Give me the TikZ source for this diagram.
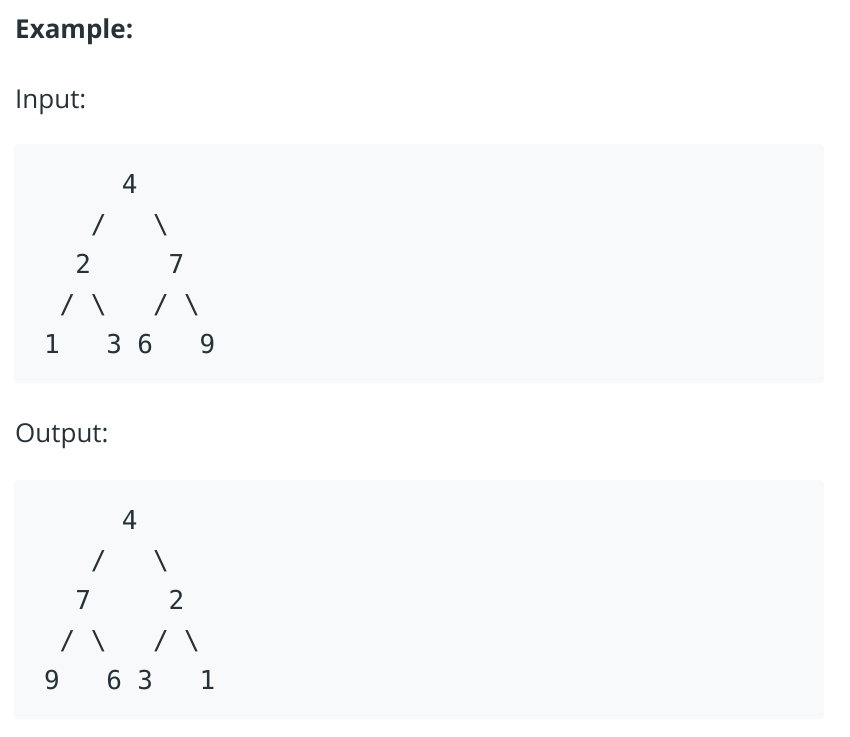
\documentclass[tikz,border=0pt]{standalone}
\usepackage{fontspec}
\setmainfont{Open Sans}
\newfontfamily\treefont{DejaVu Sans Mono}
\usetikzlibrary{positioning}
\definecolor{inkgray}{HTML}{263238}
\definecolor{codebg}{HTML}{F7F9FA}

\begin{document}
\begin{tikzpicture}
	[x=1pt,y=-1pt,
	 codebox/.style={fill=codebg,rounded corners=4pt},
	 heading/.style={anchor=base west,inner sep=0pt,text=inkgray,font=\fontsize{26}{30}\selectfont},
	 glyph/.style={anchor=base,inner sep=0pt,text=inkgray,font=\treefont\fontsize{26}{30}\selectfont}]
\useasboundingbox[fill=white] (0,0) rectangle (850,736);

\node[heading,font=\bfseries\fontsize{26}{30}\selectfont](title) at (15,38){Example:};
\node[heading](input) at (15,108){Input:};
\node[heading](output) at (15,442){Output:};

\path[codebox] (14,144) rectangle (824,383);
\path[codebox] (14,480) rectangle (824,719);

% columns of the monospaced text, 15.55px apart
\foreach \name/\col/\row/\txt in
	{a4/5/0/4, al/3/1/{/}, ar/7/1/\textbackslash,
	 a2/2/2/2, a7/8/2/7,
	 bl/1/3/{/}, br/3/3/\textbackslash, cl/7/3/{/}, cr/9/3/\textbackslash,
	 a1/0/4/1, a3/4/4/3, a6/6/4/6, a9/10/4/9}
	\node[glyph](in\name) at (52+15.55*\col,193+40*\row){\txt};

\foreach \name/\col/\row/\txt in
	{a4/5/0/4, al/3/1/{/}, ar/7/1/\textbackslash,
	 a7/2/2/7, a2/8/2/2,
	 bl/1/3/{/}, br/3/3/\textbackslash, cl/7/3/{/}, cr/9/3/\textbackslash,
	 a9/0/4/9, a6/4/4/6, a3/6/4/3, a1/10/4/1}
	\node[glyph](out\name) at (52+15.55*\col,529+40*\row){\txt};
\end{tikzpicture}
\end{document}
